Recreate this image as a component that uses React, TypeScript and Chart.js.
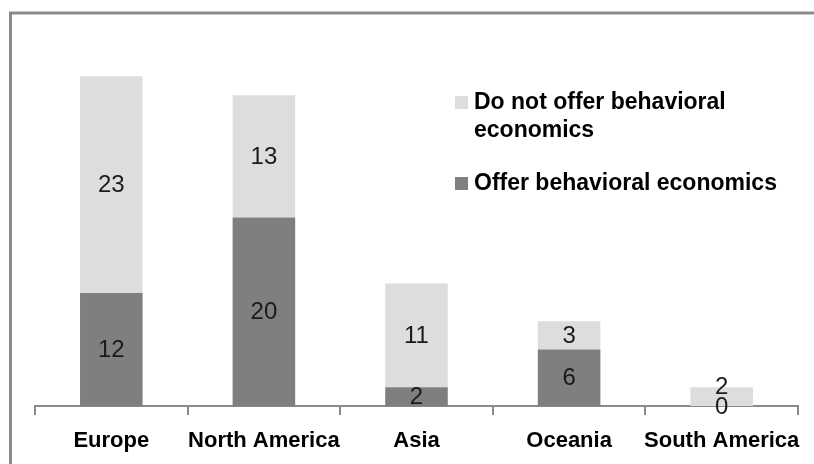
import React, { useEffect, useRef } from "react";
import { Chart, registerables } from "chart.js";

Chart.register(...registerables);

const categories = ["Europe", "North America", "Asia", "Oceania", "South America"];
const offerValues = [12, 20, 2, 6, 0];
const notOfferValues = [23, 13, 11, 3, 2];
const offerLabel = "Offer behavioral economics";
const notOfferLabelLines = ["Do not offer behavioral", "economics"];

const DARK = "#7f7f7f";
const LIGHT = "#dddddd";
const AXIS = "#8a8a8a";
const FONT = "'Liberation Sans', Arial, sans-serif";

const decorPlugin = {
  id: "decor",
  beforeDraw(chart: any) {
    const ctx = chart.ctx;
    ctx.save();
    ctx.fillStyle = "#ffffff";
    ctx.fillRect(0, 0, chart.width, chart.height);
    ctx.strokeStyle = AXIS;
    ctx.lineWidth = 3;
    ctx.beginPath();
    ctx.moveTo(10.5, chart.height);
    ctx.lineTo(10.5, 13);
    ctx.lineTo(chart.width, 13);
    ctx.stroke();
    ctx.restore();
  },
  afterDatasetsDraw(chart: any) {
    const ctx = chart.ctx;
    ctx.save();
    ctx.font = `24px ${FONT}`;
    ctx.fillStyle = "#1a1a1a";
    ctx.textAlign = "center";
    ctx.textBaseline = "middle";
    const h = 20;
    const tops: number[] = [];
    chart.data.datasets.forEach((ds: any, di: number) => {
      const meta = chart.getDatasetMeta(di);
      meta.data.forEach((el: any, i: number) => {
        const v = ds.data[i];
        let cy = (el.y + el.base) / 2;
        if (tops[i] !== undefined && cy + h / 2 > tops[i]) {
          cy = tops[i] - h / 2;
        }
        tops[i] = cy - h / 2;
        ctx.fillText(String(v), el.x, cy + 1);
      });
    });
    // legend
    ctx.textAlign = "left";
    ctx.font = `bold 23px ${FONT}`;
    ctx.fillStyle = LIGHT;
    ctx.fillRect(455, 96, 13, 13);
    ctx.fillStyle = DARK;
    ctx.fillRect(455, 177, 13, 13);
    ctx.fillStyle = "#000000";
    ctx.fillText(notOfferLabelLines[0], 474, 103);
    ctx.fillText(notOfferLabelLines[1], 474, 131);
    ctx.fillText(offerLabel, 474, 184);
    ctx.restore();
  },
};

export default function App() {
  const ref = useRef<HTMLCanvasElement>(null);
  useEffect(() => {
    if (!ref.current) return;
    const chart = new Chart(ref.current, {
      type: "bar",
      data: {
        labels: categories,
        datasets: [
          {
            label: offerLabel,
            data: offerValues,
            backgroundColor: DARK,
            categoryPercentage: 1,
            barPercentage: 0.41,
          },
          {
            label: notOfferLabelLines.join(" "),
            data: notOfferValues,
            backgroundColor: LIGHT,
            categoryPercentage: 1,
            barPercentage: 0.41,
          },
        ],
      },
      options: {
        responsive: false,
        animation: false,
        layout: { padding: { left: 35, right: 16, top: 29.2, bottom: 0 } },
        plugins: {
          legend: { display: false },
          tooltip: { enabled: false },
          title: { display: false },
        },
        scales: {
          x: {
            stacked: true,
            afterFit: (scale: any) => {
              scale.height = 58;
            },
            grid: {
              display: true,
              drawOnChartArea: false,
              drawTicks: true,
              tickLength: 9,
              color: AXIS,
              lineWidth: 2,
              offset: true,
            },
            border: { display: true, color: AXIS, width: 2 },
            ticks: {
              color: "#000000",
              padding: 13,
              maxRotation: 0,
              autoSkip: false,
              font: { family: FONT, size: 22, weight: "bold" },
            },
          },
          y: {
            stacked: true,
            display: false,
            min: 0,
            max: 40,
          },
        },
      },
      plugins: [decorPlugin],
    });
    return () => chart.destroy();
  }, []);
  return (
    <div style={{ position: "fixed", left: 0, top: 0, width: 814, height: 464, background: "#fff" }}>
      <canvas ref={ref} width={814} height={464} style={{ width: 814, height: 464, display: "block" }} />
    </div>
  );
}
